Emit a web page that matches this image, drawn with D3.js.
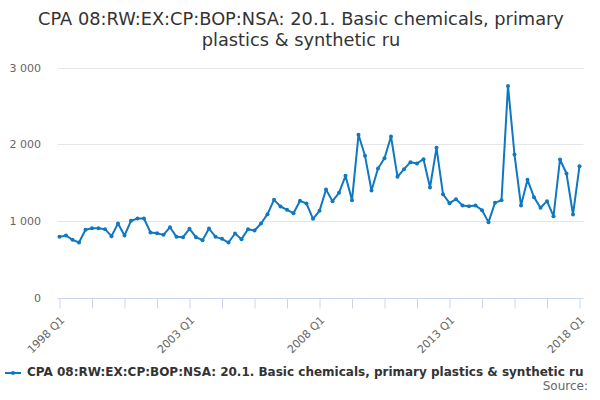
<!DOCTYPE html>
<html>
<head>
<meta charset="utf-8">
<script src="https://cdn.jsdelivr.net/npm/d3@7"></script>
<style>
  body { margin: 0; background: #fff; }
  svg { font-family: "DejaVu Sans", sans-serif; display: block; }
</style>
</head>
<body>
<div id="chart"></div>
<script>
// quarterly values, 1998 Q1 .. 2018 Q1
const startYear = 1998;
const values = [
  791, 809, 752, 717, 883, 904, 904, 891, 800, 965,
  809, 1000, 1030, 1030, 848, 839, 817, 917, 791, 787,
  896, 787, 748, 900, 791, 765, 717, 835, 761, 891,
  874, 965, 1087, 1274, 1187, 1143, 1100, 1261, 1226, 1026,
  1130, 1409, 1257, 1365, 1587, 1270, 2122, 1848, 1396, 1683,
  1817, 2100, 1574, 1674, 1765, 1748, 1804, 1435, 1952, 1348,
  1230, 1283, 1200, 1191, 1200, 1139, 983, 1235, 1270, 2760,
  1865, 1200, 1535, 1309, 1170, 1257, 1061, 1800, 1617, 1083,
  1713
];
const quarters = values.map((v, i) => `${startYear + Math.floor(i / 4)} Q${i % 4 + 1}`);
const yTicks = [0, 1000, 2000, 3000];
const seriesName = 'CPA 08:RW:EX:CP:BOP:NSA: 20.1. Basic chemicals, primary plastics & synthetic ru';
const titleLines = ['CPA 08:RW:EX:CP:BOP:NSA: 20.1. Basic chemicals, primary', 'plastics & synthetic ru'];

const W = 600, H = 400;
const margin = { top: 67.5, right: 20.5, bottom: 102.5, left: 59.5 };
const color = '#0f78c0';

const svg = d3.select('#chart').append('svg')
  .attr('width', W).attr('height', H);

// title
svg.append('text')
  .attr('x', W / 2 + 1).attr('y', 25)
  .attr('text-anchor', 'middle')
  .attr('fill', '#333')
  .style('font-size', '17.8px')
  .selectAll('tspan').data(titleLines).join('tspan')
    .attr('x', W / 2 + 1)
    .attr('dy', (d, i) => i ? '1.2em' : 0)
    .text(d => d);

const x = d3.scaleLinear()
  .domain([0, values.length - 1])
  .range([margin.left, W - margin.right]);
const y = d3.scaleLinear()
  .domain([0, 3000])
  .range([H - margin.bottom, margin.top]);

// grid
svg.append('g')
  .selectAll('line').data(yTicks.slice(1)).join('line')
    .attr('x1', margin.left - 2).attr('x2', W - margin.right + 4)
    .attr('y1', d => Math.round(y(d)) + 0.5).attr('y2', d => Math.round(y(d)) + 0.5)
    .attr('stroke', '#e6e6e6');

// y labels
const fmt = d => d3.format(',')(d).replace(/,/g, ' ');
svg.append('g')
  .selectAll('text').data(yTicks).join('text')
    .attr('x', 41).attr('y', d => y(d) + 4)
    .attr('text-anchor', 'end')
    .attr('fill', '#666')
    .style('font-size', '11px')
    .text(fmt);

// x axis
const xAxis = d3.axisBottom(x)
  .tickValues(d3.range(0, values.length, 5))
  .tickSize(10)
  .tickFormat(i => i % 20 === 0 ? quarters[i] : '');
const xg = svg.append('g')
  .attr('transform', `translate(0,${Math.round(y(0)) + 0.5})`)
  .call(xAxis);
xg.select('.domain').attr('stroke', '#ccd6eb').attr('d', `M${margin.left - 2},0H${W - margin.right + 4}`);
xg.selectAll('.tick line').attr('stroke', '#ccd6eb');
xg.selectAll('.tick text')
  .attr('fill', '#666')
  .style('font-size', '11px')
  .style('font-family', '"DejaVu Sans", sans-serif')
  .attr('text-anchor', 'end')
  .attr('x', 0).attr('y', 0)
  .attr('dy', '0.35em')
  .attr('transform', 'translate(2.5,19.5) rotate(-45)');

// line
svg.append('path')
  .datum(values)
  .attr('fill', 'none')
  .attr('stroke', color)
  .attr('stroke-width', 2)
  .attr('stroke-linejoin', 'round')
  .attr('d', d3.line().x((d, i) => x(i)).y(d => y(d)));

svg.append('g')
  .selectAll('circle').data(values).join('circle')
    .attr('cx', (d, i) => x(i)).attr('cy', d => y(d))
    .attr('r', 2)
    .attr('fill', color);

// legend
const lg = svg.append('g').attr('transform', 'translate(0,373)');
lg.append('line').attr('x1', 5).attr('x2', 21).attr('stroke', color).attr('stroke-width', 2);
lg.append('circle').attr('cx', 13).attr('r', 2).attr('fill', color);
lg.append('text')
  .attr('x', 27).attr('y', 3)
  .attr('fill', '#333')
  .style('font-size', '12px')
  .style('font-weight', 'bold')
  .text(seriesName);

svg.append('text')
  .attr('x', 588).attr('y', 390)
  .attr('text-anchor', 'end')
  .attr('fill', '#666')
  .style('font-size', '12px')
  .text('Source:');
</script>
</body>
</html>
